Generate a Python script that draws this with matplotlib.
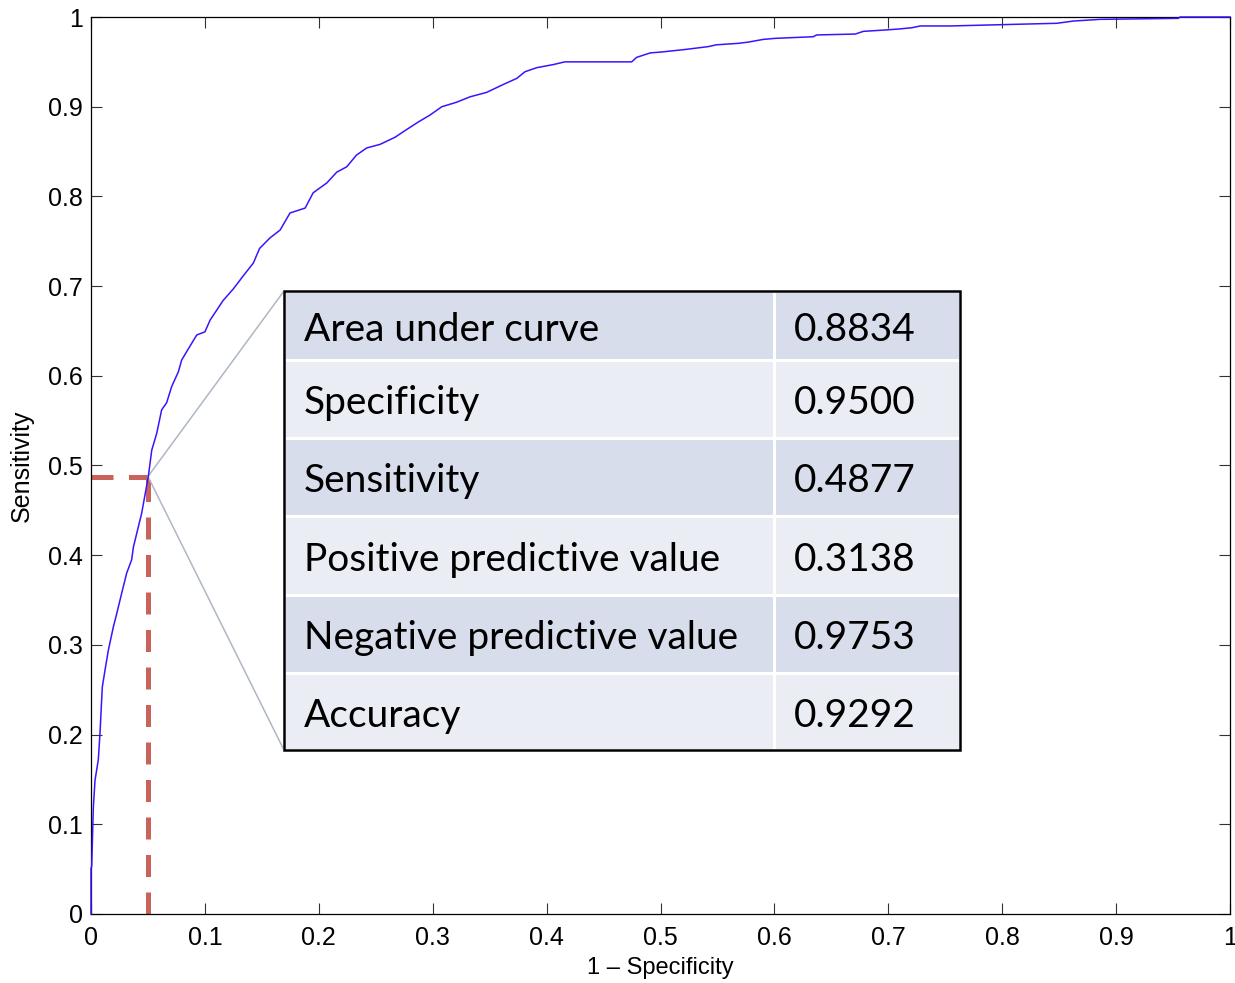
import matplotlib
matplotlib.use("Agg")
import matplotlib.pyplot as plt
import matplotlib.patheffects as pe
from matplotlib.patches import Rectangle
from matplotlib.transforms import Affine2D

# ---- data ----
fpr = [0.0, 0.0, 0.0006, 0.002, 0.0035, 0.0064, 0.0079, 0.0099, 0.0123, 0.0152,
       0.0196, 0.0226, 0.027, 0.0313, 0.0357, 0.0372, 0.0445, 0.0503, 0.0533, 0.0577,
       0.062, 0.0664, 0.0708, 0.0767, 0.0796, 0.084, 0.0928, 0.1, 0.1045, 0.116,
       0.125, 0.134, 0.1425, 0.148, 0.157, 0.166, 0.1747, 0.188, 0.195, 0.207,
       0.2157, 0.2245, 0.233, 0.242, 0.2537, 0.267, 0.274, 0.2874, 0.2976, 0.308,
       0.321, 0.3327, 0.3474, 0.3606, 0.3738, 0.381, 0.3913, 0.406, 0.416, 0.4747,
       0.479, 0.491, 0.501, 0.523, 0.542, 0.549, 0.568, 0.577, 0.590, 0.6005,
       0.634, 0.637, 0.671, 0.678, 0.697, 0.709, 0.7205, 0.728, 0.754, 0.81,
       0.848, 0.8625, 0.886, 0.9546, 0.956, 1.0]
tpr = [0.0, 0.051, 0.053, 0.118, 0.149, 0.172, 0.202, 0.253, 0.272, 0.294,
       0.320, 0.335, 0.358, 0.380, 0.395, 0.409, 0.447, 0.4877, 0.517, 0.536,
       0.562, 0.570, 0.588, 0.6045, 0.6176, 0.627, 0.6455, 0.649, 0.662, 0.684,
       0.697, 0.712, 0.7257, 0.742, 0.7536, 0.7625, 0.7815, 0.787, 0.804, 0.815,
       0.827, 0.833, 0.846, 0.854, 0.858, 0.866, 0.872, 0.883, 0.8907, 0.900,
       0.905, 0.911, 0.916, 0.924, 0.9316, 0.939, 0.9435, 0.947, 0.950, 0.950,
       0.955, 0.960, 0.961, 0.964, 0.967, 0.969, 0.9706, 0.972, 0.975, 0.9762,
       0.978, 0.980, 0.981, 0.984, 0.9855, 0.9866, 0.988, 0.990, 0.990, 0.9918,
       0.993, 0.9955, 0.9974, 0.9985, 1.0, 1.0]

cut_fpr = 0.05
cut_tpr = 0.4877

metric_names = ["Area under curve", "Specificity", "Sensitivity",
                "Positive predictive value", "Negative predictive value", "Accuracy"]
metric_values = ["0.8834", "0.9500", "0.4877", "0.3138", "0.9753", "0.9292"]

ticks = [0, 0.1, 0.2, 0.3, 0.4, 0.5, 0.6, 0.7, 0.8, 0.9, 1]
tick_labels = ["0", "0.1", "0.2", "0.3", "0.4", "0.5", "0.6", "0.7", "0.8", "0.9", "1"]

# ---- figure ----
plt.rcParams["font.family"] = ["Liberation Sans", "DejaVu Sans"]
fig = plt.figure(figsize=(12.35, 9.83), dpi=100)
ax = fig.add_axes([0.0737, 0.0702, 0.9223, 0.9125])

ax.plot(fpr, tpr, color="#3A14FF", lw=1.1, zorder=3, clip_on=False)

# cut-off marker lines
shadow = [pe.SimplePatchShadow(offset=(1.5, -1.5), shadow_rgbFace="0.6", alpha=0.35), pe.Normal()]
(hline,) = ax.plot([0, cut_fpr], [cut_tpr, cut_tpr], color="#C9625A", lw=3.6,
                   solid_capstyle="butt", zorder=2)
(vline,) = ax.plot([cut_fpr, cut_fpr], [0, cut_tpr], color="#C9625A", lw=3.6,
                   solid_capstyle="butt", zorder=2)
for ln in (hline, vline):
    ln.set_dashes((4.4, 3.1))
    ln.set_dash_capstyle("butt")
    ln.set_path_effects(shadow)

# table placement (axes fraction == data, limits are 0..1)
tx0, ty0, tw, th = 0.1694, 0.1828, 0.5936, 0.5117

# connector lines from the cut-off point to the table corners
ax.plot([cut_fpr, tx0], [cut_tpr, ty0 + th], color="#AEB7C4", lw=1.1, zorder=2)
ax.plot([cut_fpr, tx0], [cut_tpr, ty0], color="#AEB7C4", lw=1.1, zorder=2)

cell_text = [[n, v] for n, v in zip(metric_names, metric_values)]
row_cols = ["#D8DDEB" if i % 2 == 0 else "#EAEDF3" for i in range(len(metric_names))]
cell_colours = [[c, c] for c in row_cols]

tab = ax.table(cellText=cell_text, cellColours=cell_colours, cellLoc="left",
               colWidths=[0.725, 0.275], bbox=[tx0, ty0, tw, th], zorder=5)
tab.auto_set_font_size(False)
tab.set_fontsize(28)
row_h = [69, 78, 78, 79, 78, 77]
for (r, c), cell in tab.get_celld().items():
    cell.set_edgecolor("white")
    cell.set_linewidth(2.2)
    cell.set_height(row_h[r])
    cell.PAD = 0.041 if c == 0 else 0.1075
    txt = cell.get_text()
    txt.set_fontfamily(["Lato", "DejaVu Sans"])
    txt.set_color("black")
    txt.set_transform(Affine2D().translate(0, -4))

ax.add_patch(Rectangle((tx0, ty0), tw, th, fill=False, edgecolor="black", lw=1.8,
                       transform=ax.transAxes, zorder=6))

# ---- axes styling (matlab look) ----
ax.set_xlim(0, 1)
ax.set_ylim(0, 1)
ax.set_xticks(ticks)
ax.set_xticklabels(tick_labels)
ax.set_yticks(ticks)
ax.set_yticklabels(tick_labels)
ax.tick_params(direction="in", length=8, width=0.8, color="#333333",
               top=True, right=True, labelsize=18)
ax.tick_params(axis="x", pad=9)
ax.tick_params(axis="y", pad=6)
for sp in ax.spines.values():
    sp.set_linewidth(0.9)

ax.set_xlabel("1 \u2013 Specificity", fontsize=17, labelpad=5)
ax.set_ylabel("Sensitivity", fontsize=18, labelpad=10)

fig.savefig("out.png", dpi=100)
